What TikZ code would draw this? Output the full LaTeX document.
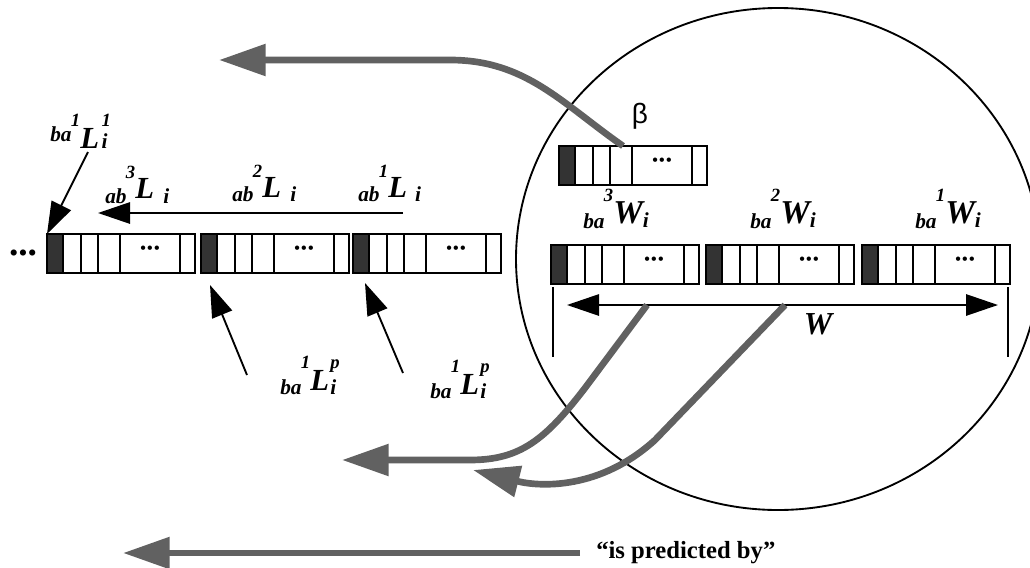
\documentclass[tikz,border=0pt]{standalone}
\usepackage{fontspec}
\setmainfont{Liberation Serif}
\newfontfamily\sansb{Liberation Sans}
\usetikzlibrary{arrows.meta}
\tikzset{
  boxline/.style={line width=1.4pt},
  divider/.style={line width=1.1pt},
  cellfill/.style={fill=black!80},
  recnode/.style={minimum width=111pt, minimum height=29.25pt, inner sep=0pt, outer sep=0pt, fill=white},
  dotstext/.style={inner sep=0pt, font=\fontsize{12}{12}\selectfont\bfseries},
  blackarrow/.style={line width=1.4pt, -{Triangle[length=24pt,width=16pt]}},
  stiparrow/.style={line width=5pt, draw=black!62, -{Triangle[length=35pt,width=23pt,fill=black!62]}},
  lbl/.style={inner sep=0pt, anchor=base west},
}
\newcommand\recbox[3]{%
  \node[recnode, anchor=north west] (#1) at (#2,#3) {};
  \fill[cellfill] (#1.north west) rectangle ++(16,39);
  \foreach \d in {16,34,51,73,133}
    \draw[divider] ([xshift=\d*0.75pt]#1.north west) -- ([xshift=\d*0.75pt]#1.south west);
  \node[dotstext] at ([xshift=103*0.75pt,yshift=2.5pt]#1.west) {•\hspace{1pt}•\hspace{1pt}•};
  \draw[boxline] (#1.north west) rectangle (#1.south east);
}
% #1 main size, #2 sup raise, #3 presub shift, #4 postsub shift, #5 presub, #6 presup, #7 main, #8 postsup, #9 postsub
\newcommand\lab[9]{{\bfseries\itshape
  \raisebox{#3}{\fontsize{16}{16}\selectfont #5}\kern-0.5pt%
  \raisebox{#2}{\fontsize{14}{14}\selectfont #6}%
  {\fontsize{#1}{#1}\selectfont #7}%
  \rlap{\raisebox{#2}{\fontsize{14}{14}\selectfont #8}}%
  \raisebox{#4}{\fontsize{16}{16}\selectfont #9}}}
\begin{document}
\begin{tikzpicture}[x=0.75pt, y=-0.75pt]
\useasboundingbox (0,0) rectangle (1030,567);
\clip (0,0) rectangle (1030,567);

% big circle
\draw[line width=1.4pt] (778,259) ellipse [x radius=262, y radius=251];

% record boxes
\recbox{Lthree}{47}{234}
\recbox{Ltwo}{201}{234}
\recbox{Lone}{353}{234}
\recbox{beta}{559}{146}
\recbox{Wthree}{551}{245}
\recbox{Wtwo}{706}{245}
\recbox{Wone}{862}{245}

\node[font=\fontsize{17}{17}\selectfont\bfseries, inner sep=0pt] (ldots) at (23,255) {•\hspace{1pt}•\hspace{1pt}•};

% labels
\node[lbl] (lbaLone) at (50,148) {\lab{23}{16pt}{5pt}{0pt}{ba}{1}{L}{\hspace{2pt}1}{\hspace{2pt}i}};
\node[lbl] (labthree) at (105,198) {\lab{23}{15pt}{-4pt}{-4pt}{ab}{3}{L}{}{\hspace{7pt}i}};
\node[lbl] (labtwo) at (232,197) {\lab{23}{15pt}{-3pt}{-3pt}{ab}{2}{L}{}{\hspace{7pt}i}};
\node[lbl] (labone) at (358,197) {\lab{23}{15pt}{-3pt}{-3pt}{ab}{1}{L}{}{\hspace{6pt}i}};
\node[lbl] (lpone) at (280,390) {\lab{23}{16pt}{-3pt}{-3pt}{ba}{1}{L}{\hspace{1pt}p}{\hspace{1pt}i}};
\node[lbl] (lptwo) at (430,394) {\lab{23}{16pt}{-3pt}{-3pt}{ba}{1}{L}{\hspace{1pt}p}{\hspace{1pt}i}};
\node[lbl] (wthree) at (583,223) {\lab{25}{16pt}{-4pt}{-3pt}{ba}{3}{W}{}{i}};
\node[lbl] (wtwo) at (750,223) {\lab{25}{16pt}{-4pt}{-3pt}{ba}{2}{W}{}{i}};
\node[lbl] (wone) at (915,223) {\lab{25}{16pt}{-4pt}{-3pt}{ba}{1}{W}{}{i}};
\node[font=\fontsize{24}{24}\selectfont\bfseries\itshape, inner sep=0pt] (wlab) at (818,324) {W};
\node[font=\sansb\fontsize{21}{21}\selectfont, inner sep=0pt] (betalab) at (640,116) {β};
\node[font=\fontsize{18.5}{18.5}\selectfont\bfseries, anchor=west, inner sep=0pt] (pred) at (596,553) {“is predicted by”};

% black arrows
\coordinate (a1s) at (88,152);
\draw[blackarrow] (a1s) -- (Lthree.north west);
\coordinate (hs) at (403,213);
\coordinate (he) at (98,213);
\draw[blackarrow] (hs) -- (he);
\coordinate (p1s) at (247,375);
\coordinate (p1e) at (210,285);
\draw[blackarrow] (p1s) -- (p1e);
\coordinate (p2s) at (403,373);
\coordinate (p2e) at (365,283);
\draw[blackarrow] (p2s) -- (p2e);

% W span
\coordinate (wbl) at (553,287);
\coordinate (wbl2) at (553,357);
\coordinate (wbr) at (1008,287);
\coordinate (wbr2) at (1008,357);
\draw[line width=1.2pt] (wbl) -- (wbl2);
\draw[line width=1.2pt] (wbr) -- (wbr2);
\coordinate (wal) at (567,305);
\coordinate (war) at (998,305);
\draw[line width=1.4pt, {Triangle[length=24pt,width=16pt]}-{Triangle[length=24pt,width=16pt]}] (wal) -- (war);

% stippled arrows
\coordinate (topend) at (219,60);
\draw[stiparrow] ([xshift=64*0.75pt]beta.north west) to[out=145,in=0] (450,60) -- (topend);
\coordinate (aS) at (647,305);
\coordinate (aE) at (342,460);
\draw[stiparrow] (aS) -- (585,388) .. controls (545,440) and (520,460) .. (470,460) -- (aE);
\coordinate (bS) at (785,305);
\coordinate (bE) at (473,470);
\draw[stiparrow] (bS) -- (655,440) .. controls (600,490) and (540,487) .. (bE);
\coordinate (cE) at (123,553);
\draw[stiparrow] ([xshift=-12pt]pred.west) -- (cE);
\end{tikzpicture}
\end{document}
